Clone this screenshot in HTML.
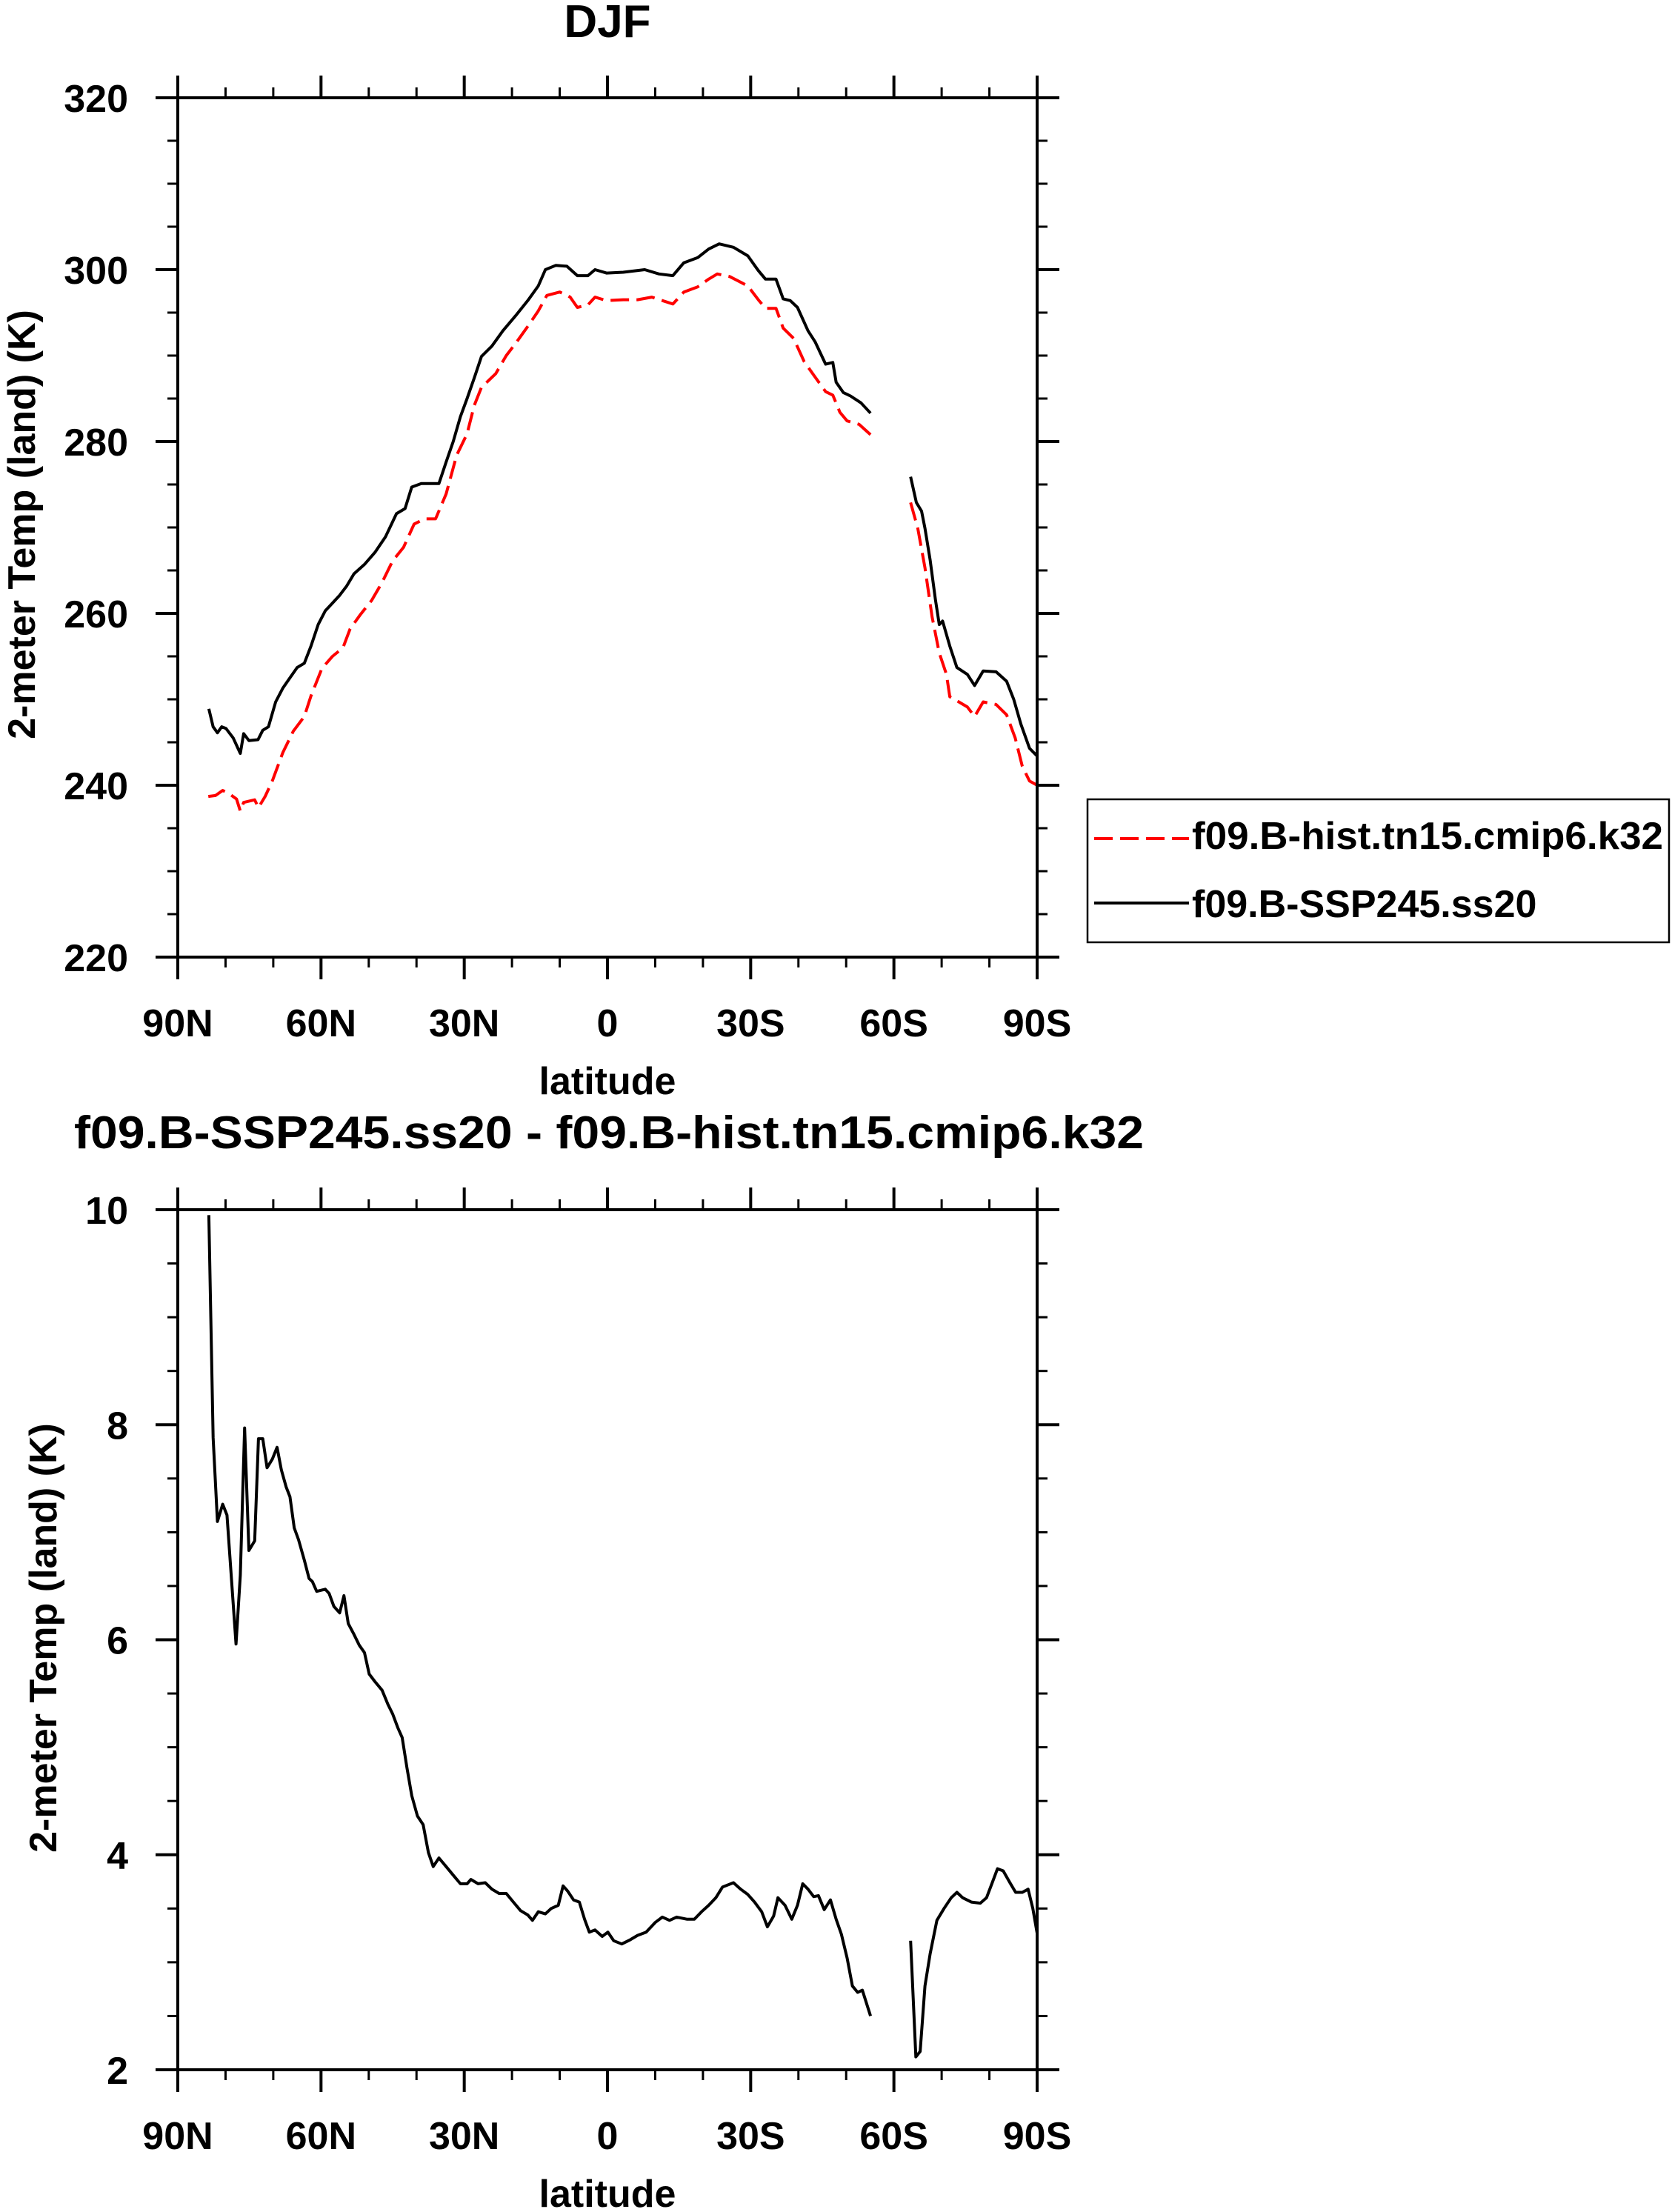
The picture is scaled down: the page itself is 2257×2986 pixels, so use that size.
<!DOCTYPE html>
<html><head><meta charset="utf-8"><style>
html,body{margin:0;padding:0;background:#fff;}
svg{display:block;font-family:"Liberation Sans",Arial,sans-serif;font-weight:bold;}
</style></head><body>
<svg id="chart" width="2257" height="2986" viewBox="0 0 2257 2986" xmlns="http://www.w3.org/2000/svg">
<text x="820" y="50" font-size="62" text-anchor="middle">DJF</text>
<text x="100" y="1550" font-size="62" textLength="1444" lengthAdjust="spacingAndGlyphs">f09.B-SSP245.ss20 - f09.B-hist.tn15.cmip6.k32</text>
<g id="top"></g>
<g id="bot"></g>
<g>
<rect x="1468" y="1079" width="785" height="193" fill="none" stroke="#000" stroke-width="2.5"/>
<line x1="1477" y1="1132" x2="1605" y2="1132" stroke="#f00" stroke-width="4" stroke-dasharray="25,10"/>
<text x="1609" y="1146" font-size="52" textLength="636" lengthAdjust="spacingAndGlyphs">f09.B-hist.tn15.cmip6.k32</text>
<line x1="1477" y1="1219" x2="1605" y2="1219" stroke="#000" stroke-width="4"/>
<text x="1609" y="1238" font-size="52">f09.B-SSP245.ss20</text>
</g>
</svg>
<script>
const NS="http://www.w3.org/2000/svg";
const xTickLabels=["90N","60N","30N","0","30S","60S","90S"];
const xTickLats=[90,60,30,0,-30,-60,-90];
const topYTicks=[220,240,260,280,300,320];
const botYTicks=[2,4,6,8,10];
const sspLat=[83.5,82.6,81.7,80.8,79.9,78.4,76.9,76.2,75.1,73.2,72.2,71.0,69.5,68.0,66.5,65.0,63.5,62.1,60.6,59.1,57.6,56.1,54.6,53.1,50.9,48.7,46.5,44.2,42.4,41.0,39.0,36.8,35.3,33.8,32.3,30.8,29.4,27.9,26.4,24.2,21.9,19.0,16.7,14.5,13.0,10.8,8.5,6.3,4.1,2.6,0.2,-3.3,-7.8,-10.8,-13.7,-16.0,-18.9,-21.2,-23.4,-26.4,-29.4,-31.6,-33.1,-35.3,-36.8,-38.3,-39.8,-42.0,-43.5,-45.7,-47.2,-47.9,-49.4,-50.9,-53.1,-55.1,-59,-63.5,-64.7,-65.8,-66.5,-67.6,-68.7,-69.5,-70.2,-71.7,-73.2,-75.4,-76.9,-78.7,-81.4,-83.6,-85.1,-86.6,-88.4,-90];
const sspVal=[248.9,246.8,246.1,246.8,246.6,245.5,243.7,246.0,245.2,245.3,246.4,246.8,249.7,251.3,252.5,253.7,254.2,256.2,258.7,260.3,261.2,262.1,263.2,264.6,265.7,267.1,268.9,271.6,272.2,274.7,275.1,275.1,275.1,277.6,280.0,282.9,285.0,287.4,289.9,291.1,292.9,294.8,296.4,298.1,300.0,300.5,300.4,299.3,299.3,300.0,299.6,299.7,300.0,299.5,299.3,300.8,301.4,302.4,303.0,302.6,301.6,299.9,298.9,298.9,296.6,296.4,295.6,292.9,291.6,289.0,289.2,286.9,285.7,285.3,284.5,283.3,null,275.9,272.9,271.9,269.9,266.2,261.6,258.7,259.1,256.2,253.7,252.9,251.6,253.3,253.2,252.1,250.0,247.1,244.3,243.4];
const histLat=[83.6,82.1,80.6,79.2,77.7,76.9,76.2,73.9,73.1,71.7,70.2,68.0,65.8,63.5,62.1,59.8,57.6,55.4,53.9,51.7,49.4,47.2,45.0,42.7,40.5,38.3,36.0,33.8,31.6,29.4,27.9,26.4,23.4,21.2,19.0,16.7,14.5,12.7,10.0,7.8,6.3,4.1,2.6,0.2,-3.3,-6.3,-9.3,-13.7,-16.0,-18.9,-21.2,-23.0,-25.6,-29.4,-31.6,-33.1,-35.3,-36.8,-39.0,-41.2,-43.5,-45.7,-47.2,-48.7,-50.2,-52.7,-55.1,-59,-63.5,-65.0,-66.5,-68.0,-69.5,-71.0,-71.7,-73.9,-75.4,-76.9,-78.7,-81.4,-83.6,-85.4,-86.9,-88.4,-90];
const histVal=[238.7,238.8,239.4,239.0,238.4,237.0,238.0,238.3,237.4,238.7,240.5,243.8,246.3,248.0,250.4,253.6,255.0,256.0,258.2,259.9,261.5,263.6,266.1,267.7,270.4,271.0,271.0,273.9,278.4,280.9,284.2,286.3,287.9,290.0,291.6,293.4,295.2,297.0,297.4,296.8,295.6,295.9,296.8,296.4,296.5,296.5,296.8,296.0,297.4,298.0,298.9,299.5,299.2,298.1,296.5,295.5,295.5,293.2,292.0,289.3,287.5,285.8,285.4,283.4,282.4,282.0,280.8,null,272.9,269.9,265.3,259.6,255.4,252.9,250.3,249.6,249.1,248.0,249.7,249.4,248.2,245.5,242.2,240.5,240.0];
const diffLat=[83.5,82.6,81.7,80.6,79.7,77.8,76.9,76.0,75.1,73.9,73.1,72.2,71.3,70.2,69.2,68.3,67.3,66.5,65.6,64.7,63.5,62.5,61.8,60.9,59.1,58.3,57.3,56.1,55.2,54.3,53.1,52.0,50.9,49.9,48.7,47.2,46.0,45.0,43.9,43.0,42.0,41.0,39.8,38.6,37.5,36.5,35.3,33.8,32.3,30.8,29.4,28.6,27.1,25.6,24.2,22.7,21.2,19.7,18.2,16.7,15.7,14.5,13.0,11.8,10.3,9.3,8.3,7.1,5.9,4.8,3.8,2.6,1.1,-0.1,-1.3,-3.0,-4.8,-6.3,-8.1,-10.0,-11.5,-13.0,-14.5,-16.7,-18.2,-19.7,-21.2,-22.7,-24.1,-26.4,-27.9,-29.4,-30.8,-32.3,-33.5,-34.8,-35.7,-37.2,-38.6,-39.8,-40.9,-42.0,-43.2,-44.2,-45.4,-46.7,-47.9,-49.0,-50.2,-51.3,-52.4,-53.4,-55.1,-59,-63.5,-64.6,-65.5,-66.5,-67.6,-69.0,-70.5,-72.0,-73.2,-74.4,-76.2,-78.1,-79.4,-80.6,-81.7,-82.9,-84.3,-85.5,-86.9,-88.1,-89.1,-90];
const diffVal=[9.95,7.88,7.10,7.26,7.16,5.96,6.60,7.97,6.83,6.92,7.87,7.87,7.60,7.68,7.79,7.58,7.42,7.33,7.04,6.93,6.74,6.57,6.54,6.45,6.47,6.43,6.31,6.25,6.41,6.15,6.05,5.95,5.88,5.68,5.61,5.53,5.40,5.31,5.18,5.09,4.81,4.55,4.36,4.28,4.02,3.89,3.97,3.89,3.81,3.73,3.73,3.77,3.73,3.74,3.68,3.64,3.64,3.56,3.48,3.44,3.39,3.47,3.45,3.50,3.53,3.71,3.66,3.58,3.56,3.40,3.28,3.30,3.24,3.28,3.20,3.17,3.21,3.25,3.28,3.37,3.42,3.39,3.42,3.40,3.40,3.47,3.53,3.60,3.70,3.74,3.68,3.63,3.56,3.47,3.33,3.43,3.60,3.53,3.40,3.53,3.73,3.68,3.61,3.62,3.49,3.58,3.40,3.26,3.04,2.78,2.72,2.74,2.50,null,3.20,2.12,2.17,2.78,3.08,3.39,3.50,3.60,3.65,3.60,3.56,3.55,3.60,3.74,3.87,3.85,3.74,3.65,3.65,3.68,3.50,3.27];

const L=240,R=1400;
function mk(tag,attrs,parent){const e=document.createElementNS(NS,tag);for(const k in attrs)e.setAttribute(k,attrs[k]);parent.appendChild(e);return e;}
function xs(lat){return L+(90-lat)/180*(R-L);}

function drawPlot(g,T,B,ymin,ymax,ticks,minorStep,ytitleX,ytitleY,series){
  const ys=v=>B-(v-ymin)/(ymax-ymin)*(B-T);
  // minor y ticks
  for(let v=ymin;v<=ymax+1e-9;v+=minorStep){
    const y=ys(v);
    const t1=mk('line',{x1:L-14,y1:y,x2:L,y2:y,stroke:'#000','stroke-width':3},g);
    
    
    const t2=mk('line',{x1:R,y1:y,x2:R+14,y2:y,stroke:'#000','stroke-width':3},g);
    
    
  }
  ticks.forEach(v=>{
    const y=ys(v);
    const a=mk('line',{x1:L-30,y1:y,x2:L,y2:y,stroke:'#000','stroke-width':4},g);
    
    
    const b=mk('line',{x1:R,y1:y,x2:R+30,y2:y,stroke:'#000','stroke-width':4},g);
    
    
    const t=mk('text',{x:173,y:y+19,'font-size':52,'text-anchor':'end'},g);
    
    
    t.textContent=String(v);
  });
  for(let lat=90;lat>=-90;lat-=10){
    const x=xs(lat);const major=(lat%30===0);const len=major?30:14;
    const a=mk('line',{x1:x,y1:B,x2:x,y2:B+len,stroke:'#000','stroke-width':major?4:3},g);
    
    
    const b=mk('line',{x1:x,y1:T-len,x2:x,y2:T,stroke:'#000','stroke-width':major?4:3},g);
    
    
  }
  xTickLats.forEach((lat,i)=>{
    const t=mk('text',{x:xs(lat),y:B+107,'font-size':52,'text-anchor':'middle'},g);
    
    
    t.textContent=xTickLabels[i];
  });
  const xt=mk('text',{x:820,y:B+185,'font-size':52,'text-anchor':'middle'},g);
  
  
  xt.textContent='latitude';
  const yt=mk('text',{x:ytitleX,y:ytitleY,'font-size':52,'text-anchor':'middle','dominant-baseline':'central',transform:`rotate(-90 ${ytitleX} ${ytitleY})`},g);
  
  
  yt.textContent='2-meter Temp (land) (K)';
  series.forEach(s=>{
    let d='',pen=false;
    s.lat.forEach((lat,i)=>{const v=s.val[i];
      if(v===null){pen=false;return;}
      d+=(pen?'L':'M')+xs(lat).toFixed(1)+' '+ys(v).toFixed(1)+' ';pen=true;});
    const p=mk('path',{d:d,fill:'none',stroke:s.color,'stroke-width':4,'stroke-linejoin':'round'},g);
    if(s.dash)p.setAttribute('stroke-dasharray',s.dash);
    
    
  });
  const fr=mk('rect',{x:L,y:T,width:R-L,height:B-T,fill:'none',stroke:'#000','stroke-width':4},g);
  
  
}
drawPlot(document.getElementById('top'),132,1292,220,320,topYTicks,5,30,708,[
  {lat:histLat,val:histVal,color:'#f00',dash:'25,10',name:'hist-line'},
  {lat:sspLat,val:sspVal,color:'#000',name:'ssp245-line'}]);
drawPlot(document.getElementById('bot'),1633,2794,2,10,botYTicks,0.5,59,2211,[
  {lat:diffLat,val:diffVal,color:'#000',name:'difference-line'}]);
</script>
</body></html>
